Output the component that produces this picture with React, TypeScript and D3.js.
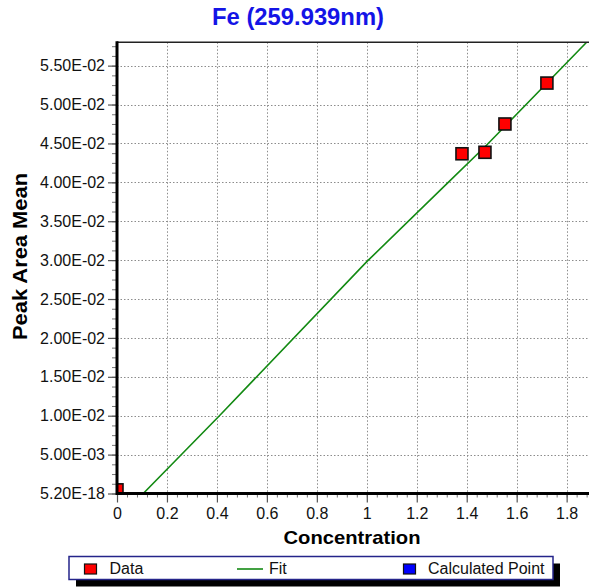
import React, { useEffect, useRef } from 'react';
import * as d3 from 'd3';

// measured points (Concentration, Peak Area Mean)
const dataConc = [0, 1.381, 1.473, 1.553, 1.721];
const dataArea = [0.00047, 0.04367, 0.04386, 0.0475, 0.05276];

// fit curve
const fitConc = [0.105, 0.41, 1.0, 1.326, 1.48, 1.88, 1.92];
const fitArea = [0, 0.01, 0.0298, 0.04, 0.0448, 0.058, 0.0593];

const xTickValues = [0, 0.2, 0.4, 0.6, 0.8, 1, 1.2, 1.4, 1.6, 1.8];
const xTickLabels = ['0', '0.2', '0.4', '0.6', '0.8', '1', '1.2', '1.4', '1.6', '1.8'];
const yTickValues = [0, 0.005, 0.01, 0.015, 0.02, 0.025, 0.03, 0.035, 0.04, 0.045, 0.05, 0.055];
const yTickLabels = [
  '5.20E-18', '5.00E-03', '1.00E-02', '1.50E-02', '2.00E-02', '2.50E-02',
  '3.00E-02', '3.50E-02', '4.00E-02', '4.50E-02', '5.00E-02', '5.50E-02',
];

const legendLabels = ['Data', 'Fit', 'Calculated Point'];

export default function App() {
  const ref = useRef<SVGSVGElement>(null);

  useEffect(() => {
    const width = 589;
    const height = 587;
    const margin = { top: 42.3, bottom: 93.5, left: 117, right: 0 };
    const font = '"Liberation Sans", Arial, sans-serif';

    const svg = d3.select(ref.current);
    svg.selectAll('*').remove();

    const xScale = d3
      .scaleLinear()
      .domain([0, 1.8])
      .range([margin.left, margin.left + 1.8 * 249.8]);

    const yScale = d3
      .scaleLinear()
      .domain([0, 0.058])
      .range([height - margin.bottom, margin.top]);

    const x0 = margin.left;
    const x1 = width;
    const y0 = height - margin.bottom;
    const y1 = margin.top;

    svg
      .append('defs')
      .append('clipPath')
      .attr('id', 'plot-clip')
      .append('rect')
      .attr('x', x0)
      .attr('y', y1)
      .attr('width', x1 - x0)
      .attr('height', y0 - y1);

    // grid
    const grid = svg.append('g').attr('stroke', '#8c8c8c').attr('stroke-width', 1).attr('stroke-dasharray', '1.5,2');
    grid
      .selectAll('line.v')
      .data(xTickValues.slice(1))
      .enter()
      .append('line')
      .attr('class', 'v')
      .attr('x1', (d) => Math.round(xScale(d)) + 0.5)
      .attr('x2', (d) => Math.round(xScale(d)) + 0.5)
      .attr('y1', y1)
      .attr('y2', y0);
    grid
      .selectAll('line.h')
      .data(yTickValues.slice(1))
      .enter()
      .append('line')
      .attr('class', 'h')
      .attr('x1', x0)
      .attr('x2', x1)
      .attr('y1', (d) => Math.round(yScale(d)) + 0.5)
      .attr('y2', (d) => Math.round(yScale(d)) + 0.5);

    const plot = svg.append('g').attr('clip-path', 'url(#plot-clip)');

    const fitLine = d3
      .line<number>()
      .x((d) => xScale(d))
      .y((_, i) => yScale(fitArea[i]));

    plot
      .append('path')
      .attr('d', fitLine(fitConc))
      .attr('fill', 'none')
      .attr('stroke', '#138a13')
      .attr('stroke-width', 1.6);

    const size = 12;
    plot
      .selectAll('rect.pt')
      .data(dataConc)
      .enter()
      .append('rect')
      .attr('class', 'pt')
      .attr('x', (d) => xScale(d) - size / 2)
      .attr('y', (_, i) => yScale(dataArea[i]) - size / 2)
      .attr('width', size)
      .attr('height', size)
      .attr('fill', '#ff0000')
      .attr('stroke', '#111')
      .attr('stroke-width', 1.6);

    // top border
    svg
      .append('line')
      .attr('x1', x0)
      .attr('x2', x1)
      .attr('y1', y1)
      .attr('y2', y1)
      .attr('stroke', '#222')
      .attr('stroke-width', 1.6);

    // minor ticks
    const yMinor = d3.axisLeft(yScale).tickValues(d3.range(0, 0.0576, 0.00125)).tickSize(5).tickFormat(() => '');
    const xMinor = d3.axisBottom(xScale).tickValues(d3.range(0, 1.881, 0.04)).tickSize(4).tickFormat(() => '');

    const yMinorG = svg.append('g').attr('transform', `translate(${x0}, 0)`).call(yMinor);
    const xMinorG = svg.append('g').attr('transform', `translate(0, ${y0})`).call(xMinor);
    [yMinorG, xMinorG].forEach((g) => {
      g.select('.domain').remove();
      g.selectAll('line').attr('stroke', '#777');
    });

    const yAxis = d3
      .axisLeft(yScale)
      .tickValues(yTickValues)
      .tickSize(9)
      .tickPadding(3)
      .tickFormat((_, i) => yTickLabels[i]);
    const xAxis = d3
      .axisBottom(xScale)
      .tickValues(xTickValues)
      .tickSize(9)
      .tickPadding(5)
      .tickFormat((_, i) => xTickLabels[i]);

    const yAxisG = svg.append('g').attr('transform', `translate(${x0}, 0)`).call(yAxis);
    const xAxisG = svg.append('g').attr('transform', `translate(0, ${y0})`).call(xAxis);
    [yAxisG, xAxisG].forEach((g) => {
      g.select('.domain').remove();
      g.selectAll('line').attr('stroke', '#555').attr('stroke-width', 1.2);
      g.selectAll('text').attr('font-family', font).attr('font-size', 16).attr('fill', '#111');
    });

    // axis lines
    svg
      .append('line')
      .attr('x1', x0)
      .attr('x2', x0)
      .attr('y1', y1 - 1)
      .attr('y2', y0 + 1.5)
      .attr('stroke', '#000')
      .attr('stroke-width', 3);
    svg
      .append('line')
      .attr('x1', x0)
      .attr('x2', x1)
      .attr('y1', y0)
      .attr('y2', y0)
      .attr('stroke', '#000')
      .attr('stroke-width', 3);

    // titles
    svg
      .append('text')
      .attr('x', 298)
      .attr('y', 25)
      .attr('text-anchor', 'middle')
      .attr('font-family', font)
      .attr('font-weight', 'bold')
      .attr('font-size', 24)
      .attr('fill', '#1414e6')
      .attr('textLength', 172)
      .attr('lengthAdjust', 'spacingAndGlyphs')
      .text('Fe (259.939nm)');

    svg
      .append('text')
      .attr('x', 352)
      .attr('y', 544)
      .attr('text-anchor', 'middle')
      .attr('font-family', font)
      .attr('font-weight', 'bold')
      .attr('font-size', 19)
      .attr('fill', '#000')
      .attr('textLength', 137)
      .attr('lengthAdjust', 'spacingAndGlyphs')
      .text('Concentration');

    svg
      .append('text')
      .attr('transform', `translate(27, 256.5) rotate(-90)`)
      .attr('text-anchor', 'middle')
      .attr('font-family', font)
      .attr('font-weight', 'bold')
      .attr('font-size', 20)
      .attr('fill', '#000')
      .attr('textLength', 167)
      .attr('lengthAdjust', 'spacingAndGlyphs')
      .text('Peak Area Mean');

    // legend
    const legend = svg.append('g');
    const lx = 69;
    const ly = 556.5;
    const lw = 484;
    const lh = 23;
    legend
      .append('rect')
      .attr('x', lx + 7)
      .attr('y', ly + 7)
      .attr('width', lw)
      .attr('height', lh)
      .attr('fill', '#000');
    legend
      .append('rect')
      .attr('x', lx)
      .attr('y', ly)
      .attr('width', lw)
      .attr('height', lh)
      .attr('fill', '#fff')
      .attr('stroke', '#24248a')
      .attr('stroke-width', 1.5);

    legend
      .append('rect')
      .attr('x', 84.5)
      .attr('y', 564)
      .attr('width', 12)
      .attr('height', 10)
      .attr('fill', '#ff0000')
      .attr('stroke', '#111')
      .attr('stroke-width', 1.2);
    legend
      .append('line')
      .attr('x1', 237)
      .attr('x2', 263)
      .attr('y1', 569)
      .attr('y2', 569)
      .attr('stroke', '#138a13')
      .attr('stroke-width', 1.6);
    legend
      .append('rect')
      .attr('x', 403.5)
      .attr('y', 564)
      .attr('width', 12)
      .attr('height', 10)
      .attr('fill', '#0000ff')
      .attr('stroke', '#111')
      .attr('stroke-width', 1.2);

    const labelX = [109.5, 269, 428];
    legend
      .selectAll('text')
      .data(legendLabels)
      .enter()
      .append('text')
      .attr('x', (_, i) => labelX[i])
      .attr('y', 574)
      .attr('font-family', font)
      .attr('font-size', 16)
      .attr('fill', '#111')
      .text((d) => d);
  }, []);

  return (
    <svg
      ref={ref}
      width={589}
      height={587}
      style={{ position: 'absolute', left: 0, top: 0, background: '#fff' }}
    />
  );
}
